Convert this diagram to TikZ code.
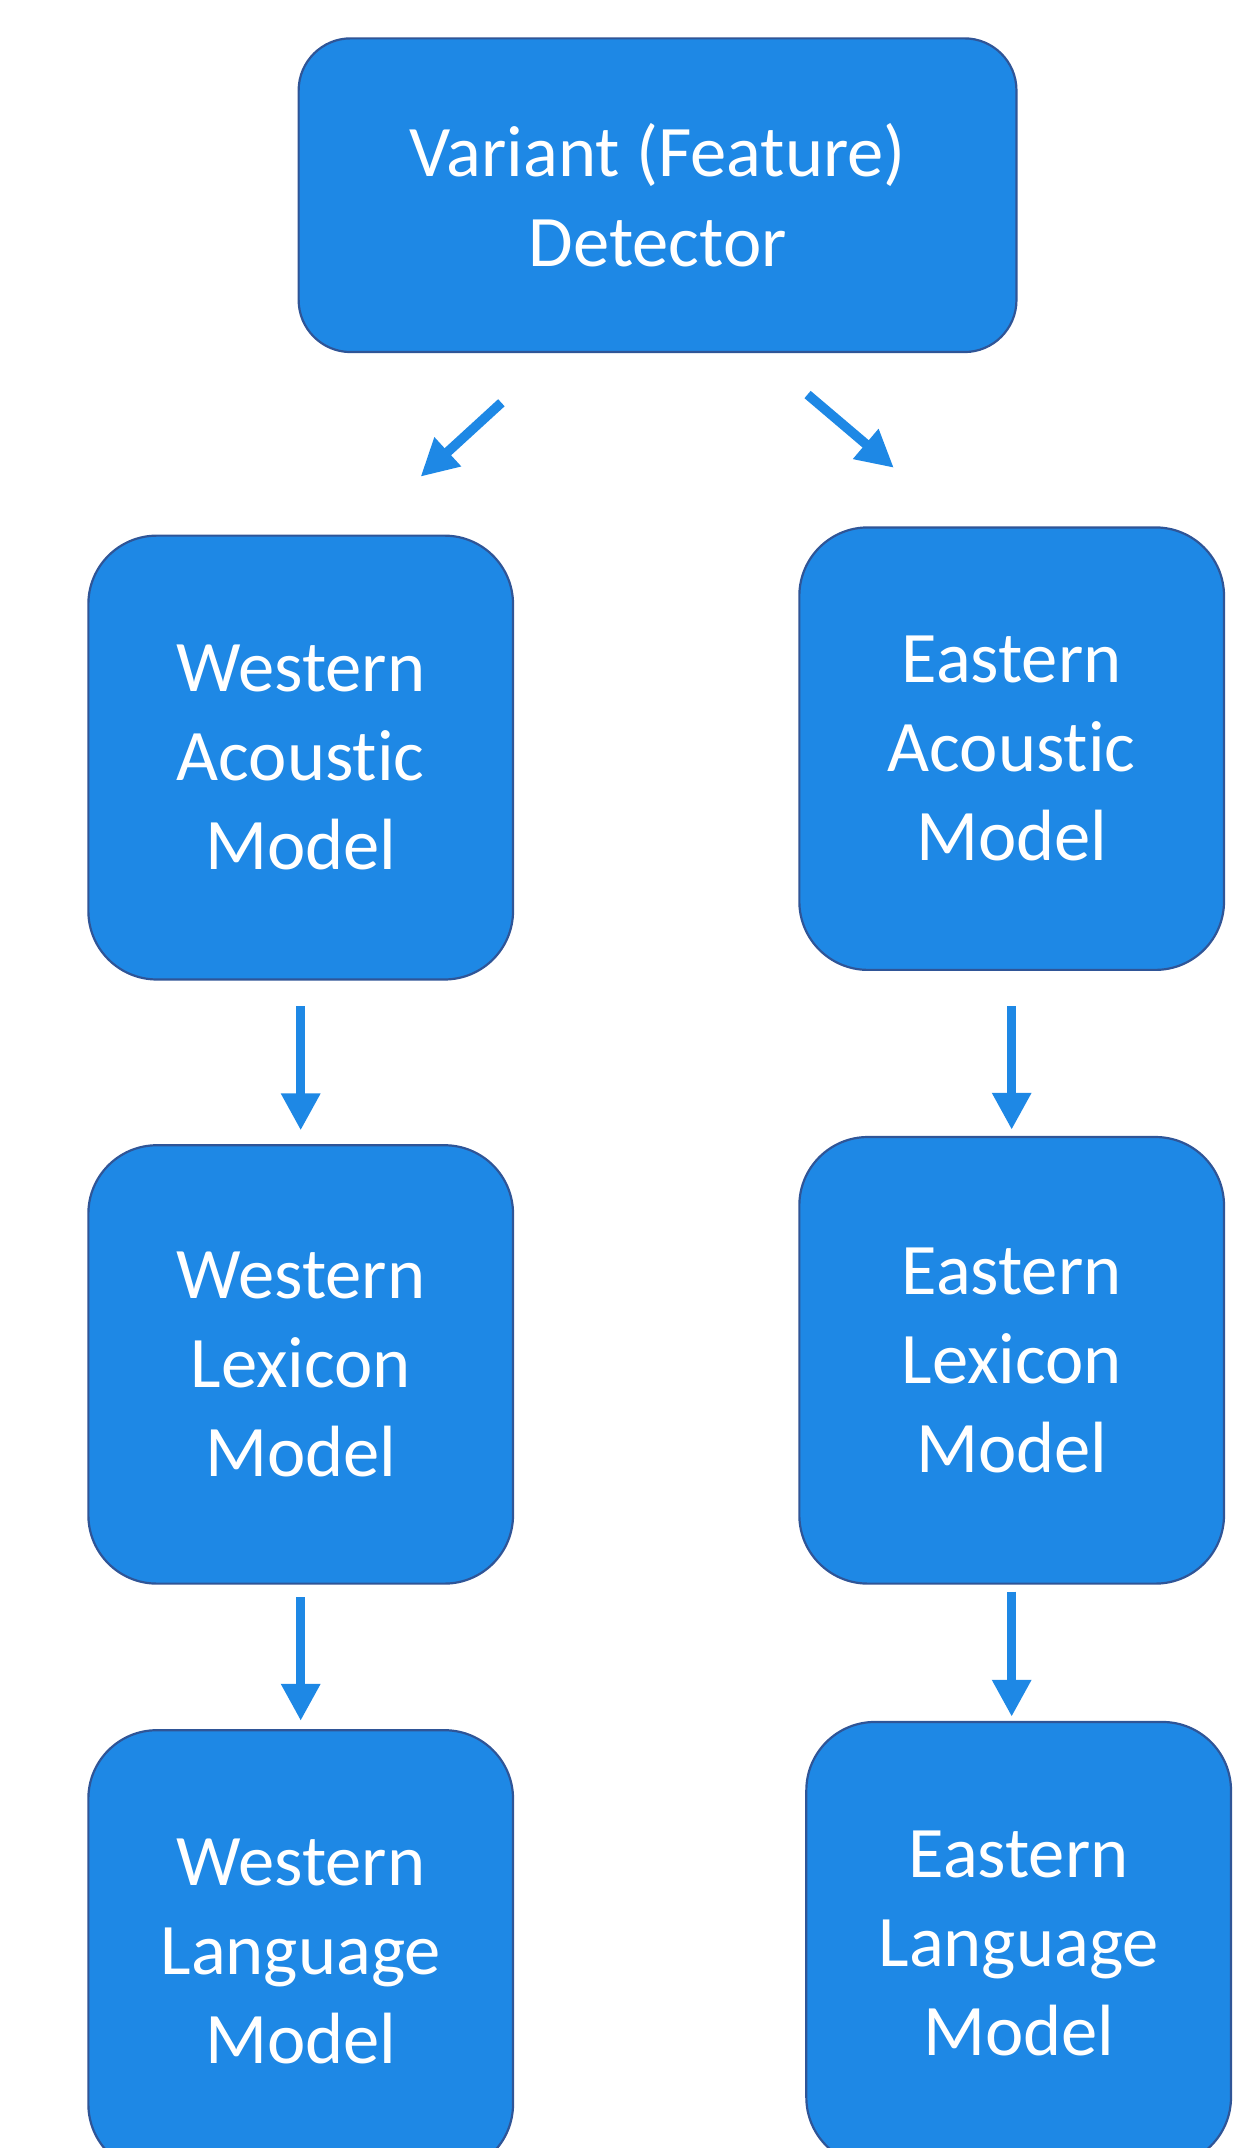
\documentclass[tikz,border=0pt]{standalone}
\usepackage{fontspec}
\setmainfont{Carlito}[Ligatures=NoCommon]
\usetikzlibrary{arrows.meta}
\definecolor{boxfill}{HTML}{1E88E5}
\definecolor{boxline}{HTML}{2F5597}
\begin{document}
\begin{tikzpicture}[x=1pt,y=-1pt,
  box/.style={draw=boxline, line width=1.6pt, fill=boxfill, text=white, align=center,
    font=\fontsize{53}{65}\selectfont, inner sep=0pt},
  modelbox/.style={box, rounded corners=50pt, minimum width=310pt},
  flow/.style={draw=boxfill, line width=7pt, -{Triangle[width=27pt,length=27pt]}}]
\useasboundingbox (0,0) rectangle (902,1568);
\clip (0,0) rectangle (902,1568);
\node[box, rounded corners=38pt, minimum width=524pt, minimum height=229pt] (det) at (480,142.5) {Variant (Feature)\\Detector};
\node[modelbox, minimum height=324pt] (wa) at (219.5,553) {Western\\Acoustic\\Model};
\node[modelbox, minimum height=323pt] (ea) at (738.5,546.5) {Eastern\\Acoustic\\Model};
\node[modelbox, minimum height=320pt] (wl) at (219.5,996) {Western\\Lexicon\\Model};
\node[modelbox, minimum height=326pt] (el) at (738.5,993) {Eastern\\Lexicon\\Model};
\node[modelbox, minimum height=323pt] (wL) at (219.5,1424.5) {Western\\Language\\Model};
\node[modelbox, minimum height=324pt] (eL) at (743.6,1419) {Eastern\\Language\\Model};
\coordinate (ls) at (366,294);
\coordinate (lt) at (307,348);
\coordinate (rs) at (589.5,288);
\coordinate (rt) at (652.5,341.5);
\draw[flow] (ls) -- (lt);
\draw[flow] (rs) -- (rt);
\draw[flow, shorten <=18.6pt, shorten >=10pt] (wa.south) -- (wl.north);
\draw[flow, shorten <=25.6pt, shorten >=4.5pt] (ea.south) -- (el.north);
\draw[flow, shorten <=9pt, shorten >=6pt] (wl.south) -- (wL.north);
\draw[flow, shorten <=5pt, shorten >=3pt] (el.south) -- (el.south |- eL.north);
\end{tikzpicture}
\end{document}
